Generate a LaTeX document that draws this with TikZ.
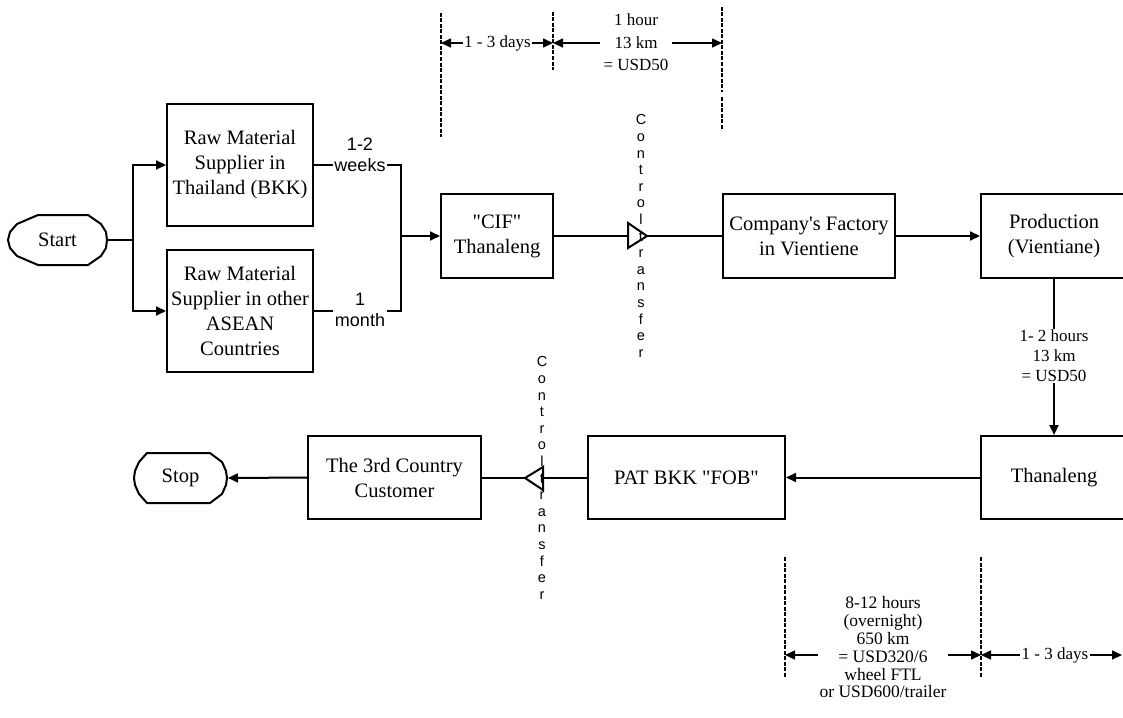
\documentclass[tikz,border=0pt]{standalone}
\usepackage{fontspec}
\setmainfont{Liberation Serif}[Ligatures=TeXOff]
\newfontfamily\arialf{Liberation Sans}
\usetikzlibrary{arrows.meta}
\begin{document}
\begin{tikzpicture}[x=1pt,y=-1pt,
  line width=2pt,
  boxnode/.style={draw, line width=2pt, align=center, inner sep=0pt,
    font=\fontsize{20.5}{25}\selectfont},
  termnode/.style={align=center, inner sep=0pt, font=\fontsize{20.5}{25}\selectfont},
  arr/.style={-{Triangle[length=10pt,width=9pt]}},
  dimarr/.style={{Triangle[length=10pt,width=9pt]}-{Triangle[length=10pt,width=9pt]}, line width=1.6pt},
  dimline/.style={line width=1.6pt, dash pattern=on 4pt off 1.5pt},
  dimlabel/.style={fill=white, align=center, inner sep=1.5pt},
  sanslabel/.style={fill=white, align=center, inner sep=1.5pt,
    font=\arialf\fontsize{18}{21}\selectfont},
  ctext/.style={align=center, inner sep=0pt, font=\arialf\fontsize{14.5}{16.6}\selectfont},
  tri/.style={draw, fill=white, line width=2pt, line join=miter}
]
\useasboundingbox[fill=white] (0,0) rectangle (1123,717);

% terminators
\draw[line width=2pt] (38,215)--(88,215)--(101,224)--(106,232)--(107,240)--(106,248)--(101,256)--(88,265)--(38,265)--(17,256)--(10,248)--(8,240)--(10,232)--(17,224)--cycle;
\node[termnode, minimum width=99pt, minimum height=50pt] (start) at (57.5,240) {Start};
\draw[line width=2pt] (147,453)--(210,453)--(222,462)--(226,471)--(227,478)--(226,485)--(222,494)--(210,503)--(147,503)--(139,494)--(135,485)--(134,478)--(135,471)--(139,462)--cycle;
\node[termnode, minimum width=93pt, minimum height=50pt] (stop) at (180.5,478) {Stop};

% boxes
\node[boxnode, minimum width=146pt, minimum height=122pt] (sup1) at (240,165) {Raw Material\\Supplier in\\Thailand (BKK)};
\node[boxnode, minimum width=146pt, minimum height=122pt] (sup2) at (240,311) {Raw Material\\Supplier in other\\ASEAN\\Countries};
\node[boxnode, minimum width=112pt, minimum height=84pt] (cif) at (497,236) {"CIF"\\Thanaleng};
\node[boxnode, minimum width=172pt, minimum height=84pt] (fac) at (809,236) {Company's Factory\\in Vientiene};
\node[boxnode, minimum width=146pt, minimum height=84pt] (prod) at (1054,236) {Production\\(Vientiane)};
\node[boxnode, minimum width=146pt, minimum height=83pt] (than) at (1054,477.5) {Thanaleng};
\node[boxnode, minimum width=197pt, minimum height=83pt] (pat) at (686.5,477.5) {PAT BKK "FOB"};
\node[boxnode, minimum width=173pt, minimum height=83pt] (cust) at (394.5,477.5) {The 3rd Country\\Customer};

% junctions
\coordinate (jn1) at (133,240);
\coordinate (jn2) at (401,236);

% connectors
\draw (start.east) -- (jn1);
\draw[arr] (jn1) |- (sup1.west);
\draw[arr] (jn1) |- (sup2.west);
\draw (sup1.east) -| (jn2);
\draw (sup2.east) -| (jn2);
\draw[arr] (jn2) -- (cif.west);
\node[sanslabel] (wk) at (360,155) {1-2\\weeks};
\node[sanslabel] (mo) at (360,310) {1\\month};

\draw (cif.east) -- (fac.west);
\draw[tri] (628,223) -- (647,236) -- (628,248) -- cycle;
\node[ctext] (ct1) at (641,236) {C\\o\\n\\t\\r\\o\\l\\t\\r\\a\\n\\s\\f\\e\\r};

\draw[arr] (fac.east) -- (prod.west);
\draw[arr] (prod.south) -- (than.north);
\node[dimlabel, font=\fontsize{17}{20}\selectfont] (lab2) at (1054,356) {1- 2 hours\\13 km\\= USD50};

\draw[arr] (than.west) -- (pat.east);
\draw (pat.west) -- (cust.east);
\draw[tri] (543,467) -- (525,478) -- (543,490) -- cycle;
\node[ctext] (ct2) at (542,478) {C\\o\\n\\t\\r\\o\\l\\t\\r\\a\\n\\s\\f\\e\\r};
\draw[arr] (cust.west) -- (stop.east);

% top dimension lines
\coordinate (d1t) at (441,13);  \coordinate (d1b) at (441,137);
\coordinate (d2t) at (553,12);  \coordinate (d2b) at (553,70);
\coordinate (d3t) at (722,7);   \coordinate (d3b) at (722,92);
\coordinate (d4t) at (722,97);  \coordinate (d4b) at (722,130);
\draw[dimline] (d1t) -- (d1b);
\draw[dimline] (d2t) -- (d2b);
\draw[dimline] (d3t) -- (d3b);
\draw[dimline] (d4t) -- (d4b);
\coordinate (a1) at (441,43);
\coordinate (a2) at (553,43);
\coordinate (a3) at (722,43);
\draw[dimarr] (a1) -- (a2);
\draw[dimarr] (a2) -- (a3);
\node[dimlabel, font=\fontsize{17}{20}\selectfont] (t1) at (497.5,43) {1 - 3 days};
\node[dimlabel, inner xsep=4pt, font=\fontsize{17}{22.5}\selectfont] (t2) at (636,42.5) {1 hour\\13 km\\= USD50};

% bottom dimension lines
\coordinate (e1t) at (785,557); \coordinate (e1b) at (785,677);
\coordinate (e2t) at (981,557); \coordinate (e2b) at (981,677);
\draw[dimline] (e1t) -- (e1b);
\draw[dimline] (e2t) -- (e2b);
\coordinate (b1) at (785,655);
\coordinate (b2) at (981,655);
\coordinate (b3) at (1122,655);
\draw[dimarr] (b1) -- (b2);
\draw[dimarr] (b2) -- (b3);
\node[dimlabel, font=\fontsize{17.5}{17.8}\selectfont] (t3) at (883,647.5) {8-12 hours\\(overnight)\\650 km\\= USD320/6\\wheel FTL\\or USD600/trailer};
\node[dimlabel, font=\fontsize{17}{20}\selectfont] (t4) at (1055,655) {1 - 3 days};
\end{tikzpicture}
\end{document}
